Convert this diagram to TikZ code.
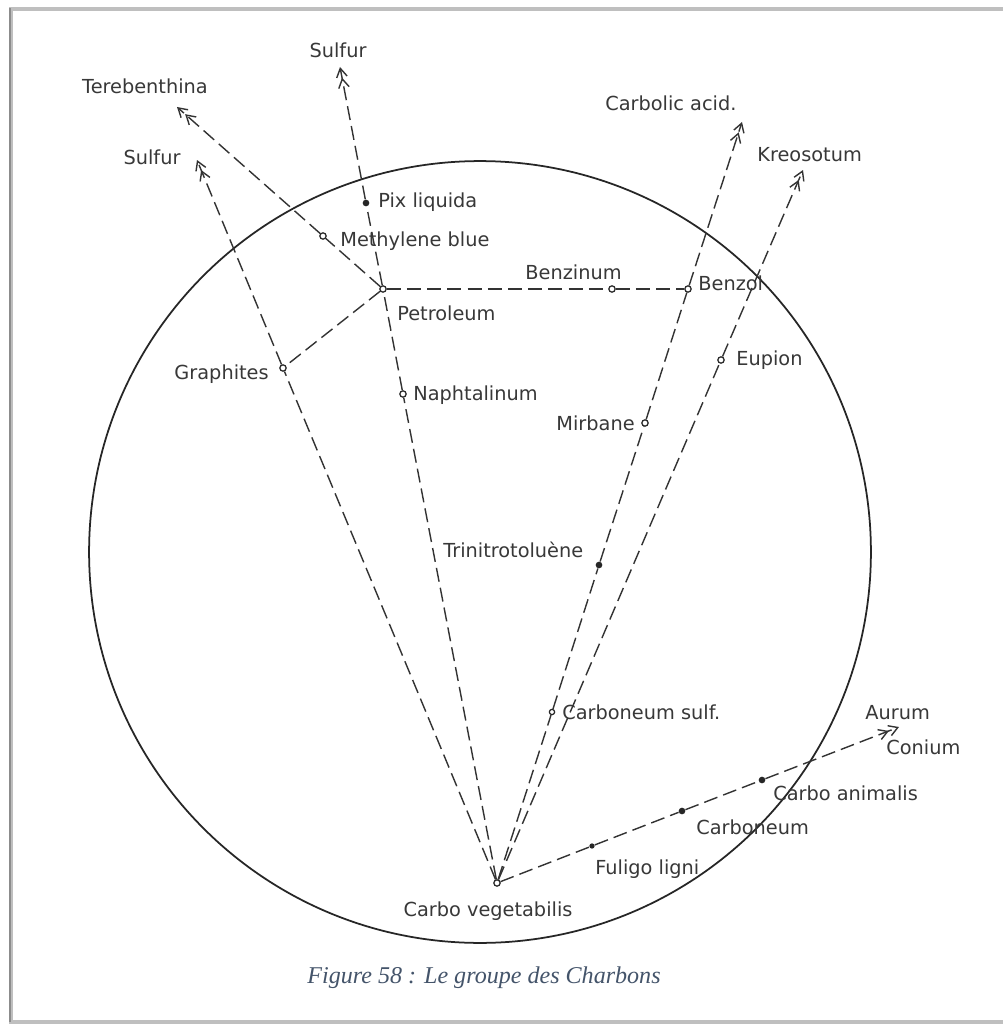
\documentclass[tikz,border=0pt]{standalone}
\usepackage{fontspec}
\setmainfont{DejaVu Sans}
\newfontfamily\capfont{Liberation Serif}
\usetikzlibrary{arrows.meta}
\definecolor{capblue}{HTML}{44546A}
\begin{document}
\begin{tikzpicture}[x=0.02cm,y=-0.02cm,
  dline/.style={line width=0.8pt, draw=black!80, dash pattern=on 8pt off 3.5pt},
  arr/.style={-{Straight Barb[length=5pt,width=6pt,line width=0.8pt]Straight Barb[length=5pt,width=6pt,line width=0.8pt]}},
  odot/.style={circle,draw=black!85,fill=white,line width=0.7pt,inner sep=0pt,minimum size=3.6pt},
  fdot/.style={circle,fill=black!85,inner sep=0pt,minimum size=3.8pt},
  lab/.style={font=\fontsize{11}{13}\selectfont, text=black!78, inner sep=0pt, text height=8pt, text depth=0pt},
]
\useasboundingbox[fill=white] (0,0) rectangle (1003,1024);
% frame
\draw[black!25, line width=2.5pt] (1003,9) -- (11,9) -- (11,1022) -- (1003,1022);
\draw[black!45, line width=1pt] (10,8) -- (10,1022);
% circle
\draw[black!85, line width=1pt] (480,552) circle [radius=7.82cm];

% points
\node[odot] (C) at (497,883) {};
\node[odot] (graph) at (283,368) {};
\node[odot] (pet) at (383,289) {};
\node[odot] (naph) at (403,394) {};
\node[fdot] (pix) at (366,203) {};
\node[odot] (meth) at (323,236) {};
\node[odot] (benzinum) at (612,289) {};
\node[odot] (benzol) at (688,289) {};
\node[odot] (mirb) at (645,423) {};
\node[fdot] (tnt) at (599,565) {};
\node[odot,minimum size=3pt] (csulf) at (552,712) {};
\node[odot] (eup) at (721,360) {};
\node[fdot,minimum size=3pt] (fulig) at (592,846) {};
\node[fdot] (carb) at (682,811) {};
\node[fdot] (canim) at (762,780) {};

% arrow ends
\coordinate (tS1) at (197,160);
\coordinate (tS2) at (340,67);
\coordinate (tT) at (177,107);
\coordinate (tCa) at (742,122);
\coordinate (tK) at (803,170);
\coordinate (tAu) at (899,727);

% connectors
\draw[dline,arr] (C) -- (graph) -- (tS1);
\draw[dline,arr] (C) -- (naph) -- (pet) -- (pix) -- (tS2);
\draw[dline,arr] (pet) -- (meth) -- (tT);
\draw[dline] (pet) -- (graph);
\draw[dline] (pet) -- (benzinum) -- (benzol);
\draw[dline,arr] (C) -- (csulf) -- (tnt) -- (mirb) -- (benzol) -- (tCa);
\draw[dline,arr] (C) -- (eup) -- (tK);
\draw[dline,arr] (C) -- (fulig) -- (carb) -- (canim) -- (tAu);

% labels
\node[lab] (lS2) at (338,50) {Sulfur};
\node[lab] (lT) at (145,86) {Terebenthina};
\node[lab] (lS1) at (152,157) {Sulfur};
\node[lab,anchor=west] (lpix) at (378,200) {Pix liquida};
\node[lab,anchor=west] (lmeth) at (340,239) {Methylene blue};
\node[lab,anchor=west] (lpet) at (397,313) {Petroleum};
\node[lab,anchor=west] (lbenzinum) at (525,272) {Benzinum};
\node[lab,anchor=west] (lbenzol) at (698,283) {Benzol};
\node[lab,anchor=east] (lgraph) at (269,372) {Graphites};
\node[lab,anchor=west] (lnaph) at (413,393) {Naphtalinum};
\node[lab,anchor=west] (leup) at (736,358) {Eupion};
\node[lab,anchor=east] (lmirb) at (635,423) {Mirbane};
\node[lab,anchor=west] (ltnt) at (443,550) {Trinitrotoluène};
\node[lab,anchor=west] (lCa) at (605,103) {Carbolic acid.};
\node[lab,anchor=west] (lK) at (757,154) {Kreosotum};
\node[lab,anchor=west] (lcsulf) at (562,712) {Carboneum sulf.};
\node[lab,anchor=west] (lAu) at (865,712) {Aurum};
\node[lab,anchor=west] (lCo) at (886,747) {Conium};
\node[lab,anchor=west] (lcanim) at (773,793) {Carbo animalis};
\node[lab,anchor=west] (lcarb) at (696,827) {Carboneum};
\node[lab,anchor=west] (lfulig) at (595,867) {Fuligo ligni};
\node[lab] (lC) at (488,909) {Carbo vegetabilis};

% caption
\node[font=\capfont\itshape\fontsize{13.7}{16}\selectfont, text=capblue, inner sep=0pt] (cap) at (484,978) {Figure 58 : Le groupe des Charbons};
\end{tikzpicture}
\end{document}
